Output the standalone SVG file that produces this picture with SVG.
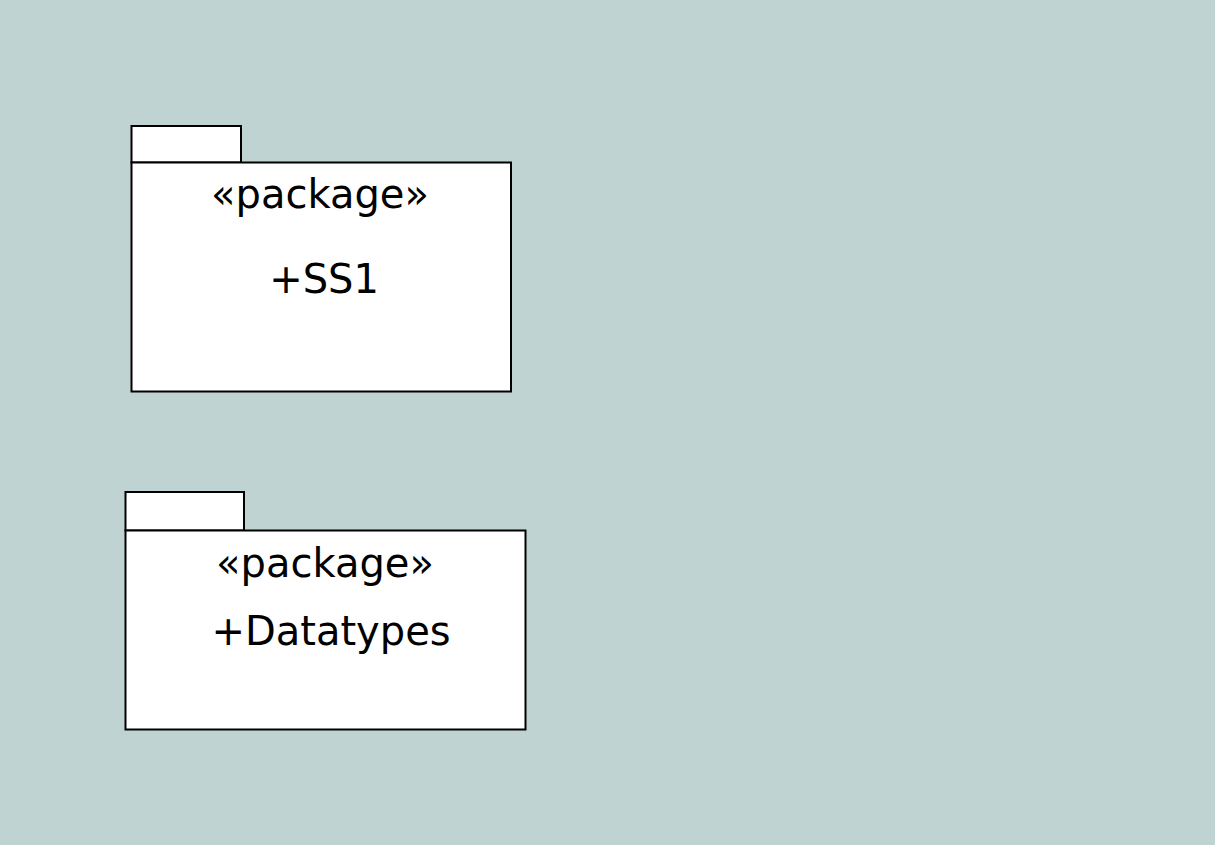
<svg xmlns="http://www.w3.org/2000/svg" width="1231" height="861" viewBox="0 0 1231 861">
  <style>
    .pkg { fill: #ffffff; stroke: #000000; stroke-width: 2; }
    .lbl { font-family: "DejaVu Sans", sans-serif; font-size: 40px; fill: #000000; text-anchor: middle; }
  </style>
  <rect x="0" y="0" width="1231" height="861" fill="#ffffff"/>
  <rect x="0" y="0" width="1215" height="845" fill="#bfd3d2"/>

  <g id="pkg-ss1">
    <rect class="pkg" x="131.5" y="126" width="109.5" height="36.5"/>
    <rect class="pkg" x="131.5" y="162.5" width="379.5" height="229"/>
    <text class="lbl" x="320" y="208">«package»</text>
    <text class="lbl" x="324" y="293">+SS1</text>
  </g>

  <g id="pkg-datatypes">
    <rect class="pkg" x="125.5" y="492" width="118.5" height="38.5"/>
    <rect class="pkg" x="125.5" y="530.5" width="400" height="199"/>
    <text class="lbl" x="325" y="577">«package»</text>
    <text class="lbl" x="331" y="645">+Datatypes</text>
  </g>

  <g id="connectors"></g>
</svg>
